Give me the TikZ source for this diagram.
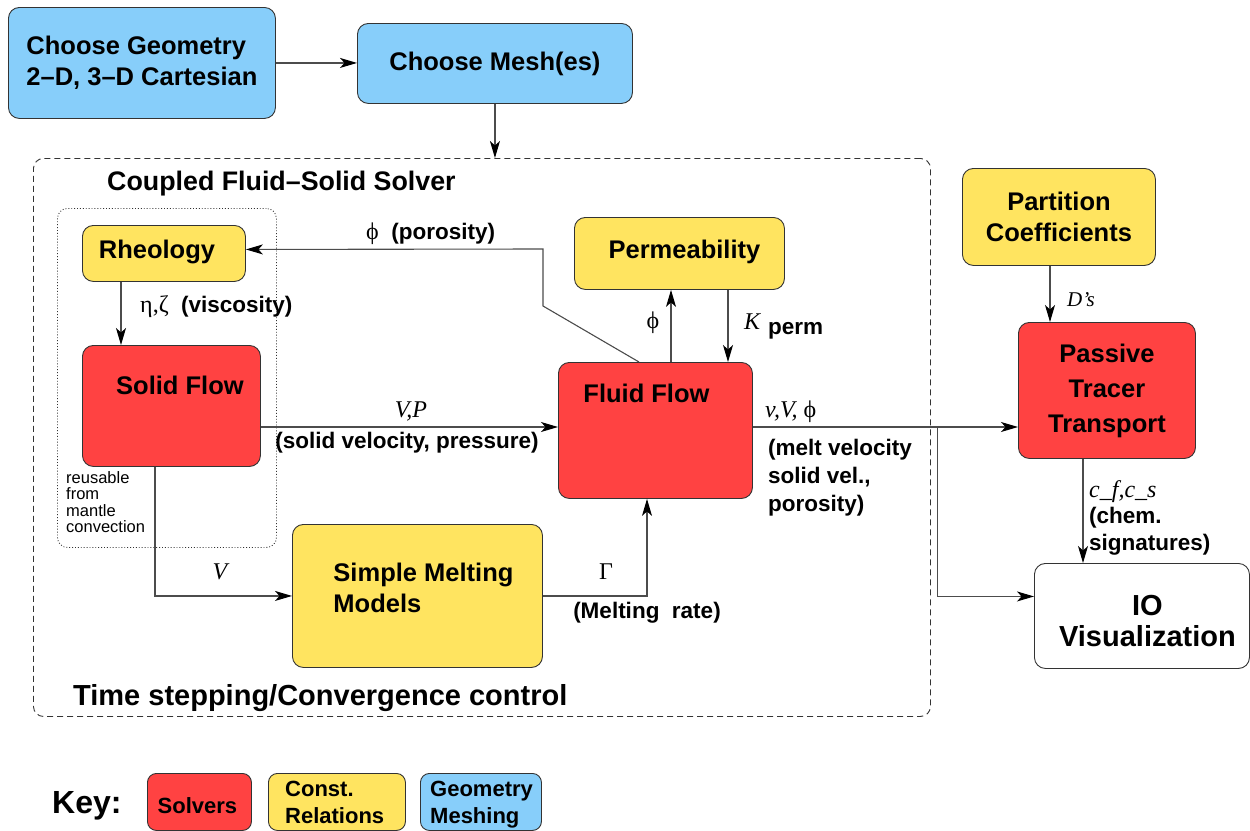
\documentclass[tikz,border=0pt]{standalone}
\usepackage{fontspec}
\setmainfont{Liberation Sans}
\newfontfamily\serifF{Liberation Serif}
\usetikzlibrary{arrows.meta,calc}
\definecolor{cblue}{HTML}{87CEFA}
\definecolor{cyel}{HTML}{FFE460}
\definecolor{cred}{HTML}{FF4242}
\begin{document}
\begin{tikzpicture}[x=1pt,y=-1pt,
 box/.style={draw=black!80, line width=0.9pt, rounded corners=11pt, anchor=north west, inner sep=0pt, font=\fontsize{25.5}{31}\selectfont\bfseries, align=center},
 bt/.style={font=\fontsize{25.5}{31}\selectfont\bfseries, align=left, inner sep=0pt},
 lbl/.style={font=\fontsize{22.5}{27.5}\selectfont\bfseries, inner sep=0pt, align=left},
 mth/.style={font=\fontsize{24}{28}\selectfont\serifF\itshape, inner sep=0pt},
 grk/.style={font=\fontsize{24}{28}\selectfont\serifF, inner sep=0pt},
 arr/.style={draw=black!70, line width=1.1pt, -{Stealth[length=17pt,width=10pt,inset=4.5pt,color=black]}},
 keybox/.style={draw=black!80, line width=0.9pt, rounded corners=9pt, anchor=north west, inner sep=0pt, font=\fontsize{22}{27}\selectfont\bfseries, align=left}]
\useasboundingbox (0,0) rectangle (1250,830);
% frames
\node[draw=black!80, line width=0.9pt, dash pattern=on 6pt off 4pt, rounded corners=10pt, minimum width=897, minimum height=558, anchor=north west, inner sep=0pt] (solver) at (33,158) {};
\node[draw=black!80, line width=0.9pt, dotted, rounded corners=10pt, minimum width=219, minimum height=339, anchor=north west, inner sep=0pt] (reuse) at (57,208) {};
% boxes
\node[box, fill=cblue, minimum width=267, minimum height=111, align=left] (geom) at (8,7) {Choose Geometry\\2–D, 3–D Cartesian};
\node[box, fill=cblue, minimum width=275, minimum height=80] (mesh) at (357,23) {Choose Mesh(es)};
\node[box, fill=cyel, minimum width=163, minimum height=56, label={[bt,xshift=-7pt,yshift=1pt]center:Rheology}] (rheo) at (82,225) {};
\node[box, fill=cred, minimum width=178, minimum height=121, label={[bt,xshift=8.5pt,yshift=20.5pt]center:Solid Flow}] (solid) at (82,345) {};
\node[box, fill=cyel, minimum width=210, minimum height=72, label={[bt,xshift=5pt,yshift=2pt]center:Permeability}] (perm) at (574,217) {};
\node[box, fill=cred, minimum width=194, minimum height=136, label={[bt,xshift=-9pt,yshift=37pt]center:Fluid Flow}] (fluid) at (558,362) {};
\node[box, fill=cyel, minimum width=250, minimum height=143, label={[bt,xshift=6pt,yshift=8pt]center:Simple Melting\\Models}] (melt) at (292,524) {};
\node[box, fill=cyel, minimum width=193, minimum height=97] (part) at (962,168) {Partition\\Coefficients};
\node[box, fill=cred, minimum width=177, minimum height=136, font=\fontsize{25.5}{35}\selectfont\bfseries] (tracer) at (1018,322) {Passive\\Tracer\\Transport};
\node[box, fill=white, minimum width=215, minimum height=105, label={[font=\fontsize{29}{31}\selectfont\bfseries, align=center, inner sep=0pt, xshift=5.5pt, yshift=-5pt]center:IO\\Visualization}] (io) at (1034,563) {};
% titles
\node[font=\fontsize{26.8}{30}\selectfont\bfseries, anchor=west, inner sep=0pt] (ttl) at (107,184) {Coupled Fluid–Solid Solver};
\node[font=\fontsize{29}{32}\selectfont\bfseries, anchor=west, inner sep=0pt] (tsc) at (73,698) {Time stepping/Convergence control};
\node[font=\fontsize{16.5}{16.5}\selectfont, anchor=north west, inner sep=0pt, align=left] (reusetxt) at (66,471) {reusable\\from\\mantle\\convection};
% connectors
\draw[arr] (geom.east) -- (geom.east -| mesh.west);
\draw[arr] (mesh.south) -- (mesh.south |- solver.north);
\draw[arr] ($(rheo.south west)+(39,0)$) -- ($(solid.north west)+(39,0)$);
\coordinate (vp) at ($(solid.north east)+(0,82)$);
\draw[arr] (vp) -- (vp -| fluid.west);
\draw[arr] ($(fluid.north west)+(113,0)$) -- ($(perm.south west)+(97,0)$);
\draw[arr] ($(perm.south west)+(154,0)$) -- ($(fluid.north west)+(170,0)$);
\draw[arr] ($(fluid.north west)+(81,0)$) -- (543,306) -- (543,249) -- ($(rheo.east)+(0,-4)$);
\draw[arr] ($(solid.south west)+(73,0)$) |- (melt.west);
\draw[arr] (melt.east) -| ($(fluid.south west)+(89,0)$);
\coordinate (fo) at ($(fluid.north east)+(0,65)$);
\draw[arr] (fo) -- (fo -| tracer.west);
\coordinate (br) at ($(fo)+(185,0)$);
\draw[arr] (br) |- ($(io.west)+(0,-19.5)$);
\draw[arr] ($(part.south west)+(88,0)$) -- ($(tracer.north west)+(32,0)$);
\draw[arr] ($(tracer.south west)+(65,0)$) -- ($(io.north west)+(49,0)$);
% connector labels
\node[lbl, anchor=west] (lpor) at (366,234) {{\serifF\mdseries\fontsize{24}{28}\selectfont ϕ}\ \ (porosity)};
\node[lbl, anchor=west] (lvis) at (140,307) {{\serifF\mdseries\fontsize{24}{28}\selectfont η,ζ}\ \ (viscosity)};
\node[mth] (lvp) at (411,411) {V,P};
\node[lbl] (lsvp) at (407,443) {(solid velocity, pressure)};
\node[grk] (lphi) at (653,323) {ϕ};
\node[mth] (lk) at (752,322) {K};
\node[lbl, anchor=west] (lperm) at (768,331) {perm};
\node[mth, anchor=west] (lvvp) at (765,412) {v,V, {\upshape ϕ}};
\node[lbl, anchor=north west, font=\fontsize{22.5}{28}\selectfont\bfseries] (lmelt) at (768,439) {(melt velocity\\solid vel.,\\porosity)};
\node[mth] (lv) at (220,572) {V};
\node[grk] (lgam) at (606,572) {Γ};
\node[lbl] (lrate) at (647,613) {(Melting\ \ rate)};
\node[mth, anchor=west, font=\fontsize{21}{25}\selectfont\serifF\itshape] (lds) at (1067,300) {D’s};
\node[mth, anchor=west] (lcfs) at (1089,492) {c\_f,c\_s};
\node[lbl, anchor=north west, font=\fontsize{22.5}{27}\selectfont\bfseries] (lchem) at (1089,507) {(chem.\\signatures)};
% key
\node[font=\fontsize{32}{36}\selectfont\bfseries, anchor=west, inner sep=0pt] (key) at (52,806) {Key:};
\node[keybox, fill=cred, minimum width=104, minimum height=57, align=center, label={[font=\fontsize{22}{27}\selectfont\bfseries, inner sep=0pt, xshift=-2pt, yshift=-4pt]center:Solvers}] (ksol) at (147,773) {};
\node[keybox, fill=cyel, minimum width=137, minimum height=57, label={[font=\fontsize{22}{27}\selectfont\bfseries, align=left, inner sep=0pt, anchor=north west, xshift=17pt, yshift=-8pt]north west:Const.\\Relations}] (kcon) at (268,773) {};
\node[keybox, fill=cblue, minimum width=121, minimum height=57, label={[font=\fontsize{22}{27}\selectfont\bfseries, align=left, inner sep=0pt, anchor=north west, xshift=10pt, yshift=-8pt]north west:Geometry\\Meshing}] (kgeo) at (420,773) {};
\end{tikzpicture}
\end{document}
